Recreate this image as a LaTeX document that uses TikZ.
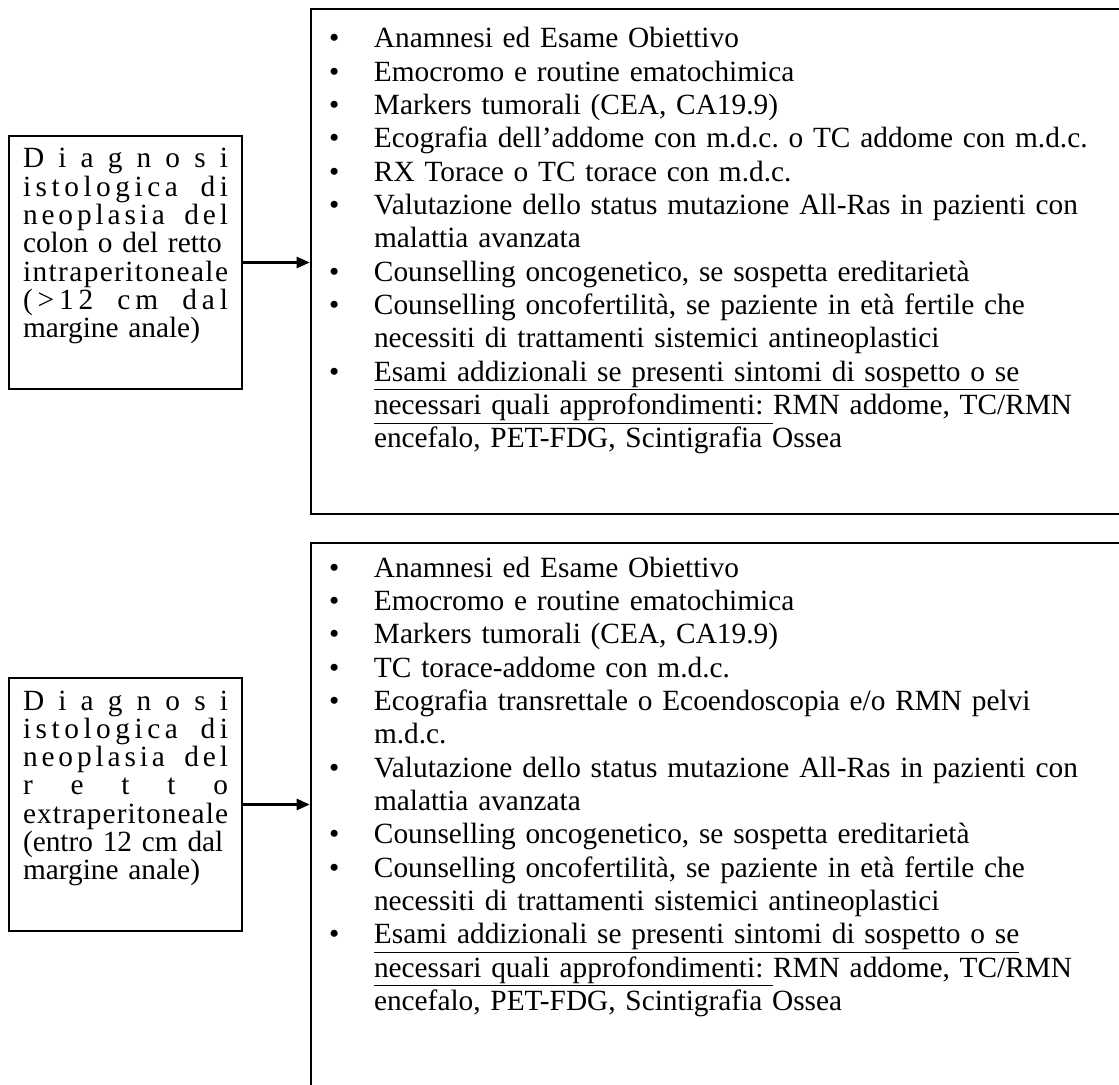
\documentclass[tikz,border=0pt]{standalone}
\usepackage{fontspec}
\setmainfont{Liberation Serif}
\usetikzlibrary{arrows.meta,positioning}
\frenchspacing
% bullet and hanging indent for the lists
\newcommand{\bul}{\makebox[33.75pt][l]{\textbullet}}
\newcommand{\cnt}{\hspace*{33.75pt}}
% justified lines of the left boxes
\newcommand{\fillline}[1]{\makebox[\linewidth][s]{#1}}
\newcommand{\lsp}{\hspace{0pt plus 1fil}}
\newcommand{\wsp}{\hspace{0pt plus 5fil}}

\begin{document}
\begin{tikzpicture}[x=0.75pt,y=-0.75pt,
  diagbox/.style={draw,line width=1.5pt,anchor=north west,inner xsep=10.5pt,inner ysep=0pt,
    text width=153.75pt,align=left,text height=24pt,text depth=165.75pt,
    font=\fontsize{22}{21.2}\selectfont},
  esamibox/.style={draw,line width=1.5pt,anchor=north west,inner xsep=13.5pt,inner ysep=0pt,
    text width=640pt,align=left,font=\fontsize{22}{25}\selectfont},
  link/.style={-{Triangle[length=10pt,width=8pt]},line width=2.5pt}]
  \useasboundingbox (0,0) rectangle (1119,1084);
  % colon
  \node[diagbox] (colondx) at (8,135) {%
    \fillline{D\lsp i\lsp a\lsp g\lsp n\lsp o\lsp s\lsp i}\\
    \fillline{i\lsp s\lsp t\lsp o\lsp l\lsp o\lsp g\lsp i\lsp c\lsp a\wsp d\lsp i}\\
    \fillline{n\lsp e\lsp o\lsp p\lsp l\lsp a\lsp s\lsp i\lsp a\wsp d\lsp e\lsp l}\\
    \fillline{colon o del retto}\\
    \fillline{i\lsp n\lsp t\lsp r\lsp a\lsp p\lsp e\lsp r\lsp i\lsp t\lsp o\lsp n\lsp e\lsp a\lsp l\lsp e}\\
    \fillline{(\lsp >\lsp 1\lsp 2\wsp c\lsp m\wsp d\lsp a\lsp l}\\
    margine anale)};
  \node[esamibox,text height=29.25pt,text depth=349.5pt] (colonlist) at (310,8) {%
    \bul Anamnesi ed Esame Obiettivo\\
    \bul Emocromo e routine ematochimica\\
    \bul Markers tumorali (CEA, CA19.9)\\
    \bul Ecografia dell’addome con m.d.c. o TC addome con m.d.c.\\
    \bul RX Torace o TC torace con m.d.c.\\
    \bul Valutazione dello status mutazione All-Ras in pazienti con\\
    \cnt malattia avanzata\\
    \bul Counselling oncogenetico, se sospetta ereditarietà\\
    \bul Counselling oncofertilità, se paziente in età fertile che\\
    \cnt necessiti di trattamenti sistemici antineoplastici\\
    \bul \underline{Esami addizionali se presenti sintomi di sospetto o se}\\
    \cnt \underline{necessari quali approfondimenti: }RMN addome, TC/RMN\\
    \cnt encefalo, PET-FDG, Scintigrafia Ossea};
  % retto
  \node[diagbox] (rettodx) at (8,677) {%
    \fillline{D\lsp i\lsp a\lsp g\lsp n\lsp o\lsp s\lsp i}\\
    \fillline{i\lsp s\lsp t\lsp o\lsp l\lsp o\lsp g\lsp i\lsp c\lsp a\wsp d\lsp i}\\
    \fillline{n\lsp e\lsp o\lsp p\lsp l\lsp a\lsp s\lsp i\lsp a\wsp d\lsp e\lsp l}\\
    \fillline{r\lsp e\lsp t\lsp t\lsp o}\\
    \fillline{e\lsp x\lsp t\lsp r\lsp a\lsp p\lsp e\lsp r\lsp i\lsp t\lsp o\lsp n\lsp e\lsp a\lsp l\lsp e}\\
    \fillline{(entro 12 cm dal}\\
    margine anale)};
  \node[esamibox,text height=25.5pt,text depth=430pt] (rettolist) at (310,542) {%
    \bul Anamnesi ed Esame Obiettivo\\
    \bul Emocromo e routine ematochimica\\
    \bul Markers tumorali (CEA, CA19.9)\\
    \bul TC torace-addome con m.d.c.\\
    \bul Ecografia transrettale o Ecoendoscopia e/o RMN pelvi\\
    \cnt m.d.c.\\
    \bul Valutazione dello status mutazione All-Ras in pazienti con\\
    \cnt malattia avanzata\\
    \bul Counselling oncogenetico, se sospetta ereditarietà\\
    \bul Counselling oncofertilità, se paziente in età fertile che\\
    \cnt necessiti di trattamenti sistemici antineoplastici\\
    \bul \underline{Esami addizionali se presenti sintomi di sospetto o se}\\
    \cnt \underline{necessari quali approfondimenti: }RMN addome, TC/RMN\\
    \cnt encefalo, PET-FDG, Scintigrafia Ossea};
  % arrows
  \draw[link] (colondx.east) -- (colondx.east -| colonlist.west);
  \draw[link] (rettodx.east) -- (rettodx.east -| rettolist.west);
\end{tikzpicture}
\end{document}
